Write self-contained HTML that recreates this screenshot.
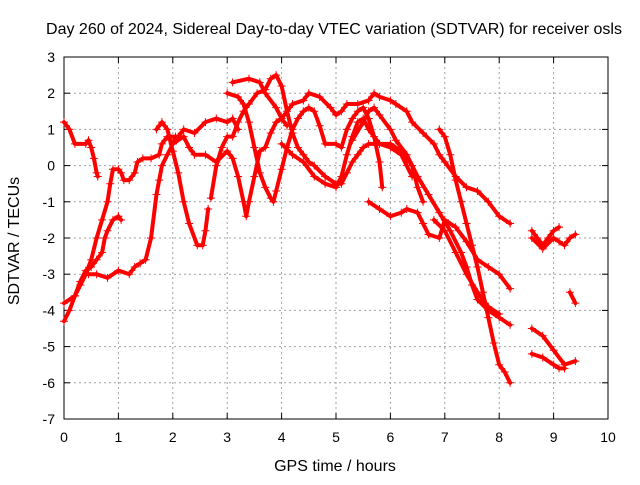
<!DOCTYPE html>
<html><head><meta charset="utf-8"><style>
body{margin:0;background:#fff;}
svg text{font-family:"Liberation Sans",sans-serif;font-size:14px;fill:#000;}
svg text.big{font-size:16px;}
</style></head><body>
<svg id="chart" width="640" height="480" xmlns="http://www.w3.org/2000/svg">
<text class="big" x="334" y="34" text-anchor="middle">Day 260 of 2024, Sidereal Day-to-day VTEC variation (SDTVAR) for receiver osls</text>
<text class="big" x="335" y="471" text-anchor="middle">GPS time / hours</text>
<text class="big" transform="translate(19,241) rotate(-90)" text-anchor="middle">SDTVAR / TECUs</text>
<g id="grid"></g><g id="axes"></g><g id="series"></g>
</svg>
<script>
const xTicks=[0,1,2,3,4,5,6,7,8,9,10];
const yTicks=[3,2,1,0,-1,-2,-3,-4,-5,-6,-7];
const trackA=[[0,1.2],[0.1,1.0],[0.2,0.6],[0.4,0.6],[0.45,0.7],[0.5,0.5],[0.55,0.2],[0.6,-0.2],[0.62,-0.3]];
const trackB=[[0,-4.3],[0.1,-4.0],[0.2,-3.6],[0.3,-3.3],[0.4,-3.0],[0.5,-2.6],[0.6,-2.0],[0.7,-1.5],[0.8,-1.0],[0.85,-0.5],[0.9,-0.1],[1.0,-0.1],[1.05,-0.2],[1.1,-0.4],[1.2,-0.4],[1.3,-0.2],[1.35,0.1],[1.45,0.2],[1.6,0.2],[1.75,0.3],[1.8,0.6],[1.9,0.8],[2.1,0.8],[2.2,1.0],[2.4,0.9],[2.6,1.2],[2.8,1.3],[3.0,1.2],[3.1,1.3],[3.2,1.0]];
const trackC=[[0,-3.8],[0.2,-3.6],[0.3,-3.2],[0.4,-2.9],[0.5,-2.8],[0.6,-2.6],[0.7,-2.4],[0.75,-2.0],[0.8,-1.8],[0.9,-1.5],[1.0,-1.4],[1.05,-1.5]];
const trackD=[[0.45,-3.0],[0.6,-3.0],[0.8,-3.1],[1.0,-2.9],[1.2,-3.0],[1.3,-2.8],[1.4,-2.7],[1.5,-2.6],[1.6,-2.0],[1.7,-0.8],[1.75,-0.4],[1.8,0.0],[1.9,0.3],[2.0,0.6],[2.05,0.8]];
const trackE=[[1.7,1.0],[1.8,1.2],[1.9,1.0],[2.0,0.4],[2.1,-0.2],[2.2,-1.0],[2.3,-1.6],[2.45,-2.2],[2.55,-2.2],[2.6,-1.8],[2.65,-1.2]];
const trackF=[[2.0,0.6],[2.2,0.8],[2.3,0.5],[2.4,0.3],[2.6,0.3],[2.8,0.1],[3.0,0.4],[3.1,0.2],[3.2,-0.3],[3.3,-1.0],[3.35,-1.4],[3.4,-1.0],[3.5,-0.3],[3.6,0.4],[3.7,0.5],[3.8,0.9],[3.9,1.2],[4.0,1.3],[4.1,1.1]];
const trackG=[[2.7,-0.9],[2.8,0.0],[2.9,0.5],[3.0,0.8],[3.1,0.8],[3.2,1.2],[3.3,1.5],[3.4,1.7],[3.55,2.0],[3.7,2.1],[3.8,2.4],[3.9,2.5],[4.0,2.2],[4.1,1.5],[4.2,0.9],[4.3,0.5],[4.4,0.3],[4.5,0.1],[4.6,0.0],[4.8,-0.3],[5.0,-0.5],[5.1,-0.5],[5.2,-0.2],[5.3,0.1],[5.4,0.3],[5.5,0.5],[5.6,0.6],[5.8,0.6],[6.0,0.5],[6.2,0.3],[6.3,0.0],[6.4,-0.3]];
const trackH=[[3.0,2.0],[3.2,1.9],[3.3,1.7],[3.4,1.2],[3.5,0.5],[3.6,-0.2],[3.7,-0.6],[3.8,-0.9],[3.85,-1.0],[3.9,-0.7],[4.0,-0.1],[4.1,0.5],[4.2,1.0],[4.3,1.3],[4.4,1.5],[4.5,1.6],[4.6,1.5],[4.7,1.1],[4.8,0.6],[5.0,0.6],[5.1,0.5],[5.2,1.0],[5.3,1.3],[5.4,1.5],[5.5,1.6],[5.6,1.3],[5.7,0.8],[5.8,0.1],[5.85,-0.6]];
const trackI=[[3.1,2.3],[3.4,2.4],[3.6,2.3],[3.7,2.0],[3.9,1.6],[4.0,1.3],[4.2,1.7],[4.4,1.8],[4.5,2.0],[4.7,1.9],[4.9,1.6],[5.0,1.4],[5.1,1.5],[5.2,1.7],[5.4,1.7],[5.6,1.8],[5.7,2.0],[5.8,1.9],[6.0,1.8],[6.1,1.7],[6.3,1.5],[6.4,1.2],[6.6,0.9],[6.8,0.6],[6.9,0.3],[7.0,0.1],[7.2,-0.3],[7.4,-0.6],[7.6,-0.7],[7.8,-1.0],[8.0,-1.4],[8.2,-1.6]];
const trackJ=[[4.0,0.6],[4.2,0.3],[4.4,0.1],[4.6,-0.3],[4.8,-0.5],[5.0,-0.6],[5.1,-0.3],[5.2,0.3],[5.3,0.8],[5.4,1.2],[5.5,1.3],[5.6,1.0],[5.8,0.6],[6.0,0.6],[6.2,0.4],[6.4,0.0],[6.5,-0.6],[6.6,-1.0]];
const trackK=[[5.3,0.7],[5.5,1.2],[5.6,1.5],[5.7,1.6],[5.8,1.4],[6.0,1.0],[6.1,0.7],[6.3,0.3],[6.5,-0.3],[6.7,-0.8],[6.9,-1.3],[7.1,-1.8],[7.3,-2.4],[7.4,-2.8],[7.5,-3.3],[7.6,-3.7],[7.8,-4.0],[8.0,-4.2],[8.2,-4.4]];
const trackL=[[6.9,1.0],[7.0,0.8],[7.1,0.3],[7.2,-0.4],[7.3,-1.0],[7.4,-1.6],[7.5,-2.2],[7.6,-2.8],[7.7,-3.5],[7.8,-4.2],[7.9,-4.9],[8.0,-5.5],[8.1,-5.7],[8.2,-6.0]];
const trackM=[[5.6,-1.0],[5.8,-1.2],[6.0,-1.4],[6.2,-1.3],[6.3,-1.2],[6.5,-1.3],[6.6,-1.6],[6.7,-1.9],[6.9,-2.0],[7.0,-1.5],[7.2,-1.7],[7.4,-2.1],[7.6,-2.6],[7.8,-2.8],[8.0,-3.0],[8.2,-3.4]];
const trackN=[[6.8,-1.5],[7.0,-1.8],[7.2,-2.4],[7.4,-3.0],[7.6,-3.5],[7.8,-3.9],[8.0,-4.1]];
const trackO=[[8.6,-1.8],[8.7,-2.0],[8.8,-2.2],[8.9,-2.0],[9.0,-1.8],[9.1,-1.7]];
const trackP=[[8.6,-2.0],[8.8,-2.3],[9.0,-2.0],[9.1,-2.1],[9.2,-2.2],[9.3,-2.0],[9.4,-1.9]];
const trackQ=[[8.6,-4.5],[8.8,-4.7],[9.0,-5.1],[9.2,-5.5],[9.4,-5.4]];
const trackR=[[8.6,-5.2],[8.8,-5.3],[9.0,-5.5],[9.1,-5.6],[9.2,-5.6]];
const trackS=[[9.3,-3.5],[9.4,-3.8]];
const tracks=[trackA,trackB,trackC,trackD,trackE,trackF,trackG,trackH,trackI,trackJ,trackK,trackL,trackM,trackN,trackO,trackP,trackQ,trackR,trackS];

const L=64,R=608,T=57,B=419;
const sx=v=>L+(v-0)/(10-0)*(R-L);
const sy=v=>T+(3-v)/(3-(-7))*(B-T);
const NS="http://www.w3.org/2000/svg";
const mk=(tag,attrs,parent)=>{const e=document.createElementNS(NS,tag);for(const k in attrs)e.setAttribute(k,attrs[k]);parent.appendChild(e);return e;};
const grid=document.getElementById('grid'),axes=document.getElementById('axes'),ser=document.getElementById('series');
xTicks.forEach(t=>{
  const x=sx(t);
  if(t>0&&t<10){const g=mk('line',{x1:x,x2:x,y1:T,y2:B,stroke:'#a0a0a0','stroke-dasharray':'2,3','stroke-width':1},grid);
  
  }
  mk('line',{x1:x,x2:x,y1:B,y2:B-6,stroke:'#000'},axes);
  mk('line',{x1:x,x2:x,y1:T,y2:T+6,stroke:'#000'},axes);
  const lb=mk('text',{x:x,y:B+23,'text-anchor':'middle'},axes);lb.textContent=t;
  
  
});
yTicks.forEach(t=>{
  const y=sy(t);
  if(t<3&&t>-7){const g=mk('line',{x1:L,x2:R,y1:y,y2:y,stroke:'#a0a0a0','stroke-dasharray':'2,3','stroke-width':1},grid);
  
  }
  mk('line',{x1:L,x2:L+6,y1:y,y2:y,stroke:'#000'},axes);
  mk('line',{x1:R,x2:R-6,y1:y,y2:y,stroke:'#000'},axes);
  const lb=mk('text',{x:L-9,y:y+5,'text-anchor':'end'},axes);lb.textContent=t;
  
  
});
const frame=mk('rect',{x:L,y:T,width:R-L,height:B-T,fill:'none',stroke:'#000'},axes);


tracks.forEach(tr=>{
  const pl=mk('polyline',{points:tr.map(p=>sx(p[0])+','+sy(p[1])).join(' '),fill:'none',stroke:'#ff0000','stroke-width':4,'stroke-linejoin':'round','stroke-linecap':'round'},ser);
  
  
  tr.forEach(p=>{
    const x=sx(p[0]),y=sy(p[1]);
    const m=mk('path',{d:`M${x-4},${y}H${x+4}M${x},${y-4}V${y+4}`,stroke:'#ff0000','stroke-width':1},ser);
    
    
  });
});
</script>
</body></html>
